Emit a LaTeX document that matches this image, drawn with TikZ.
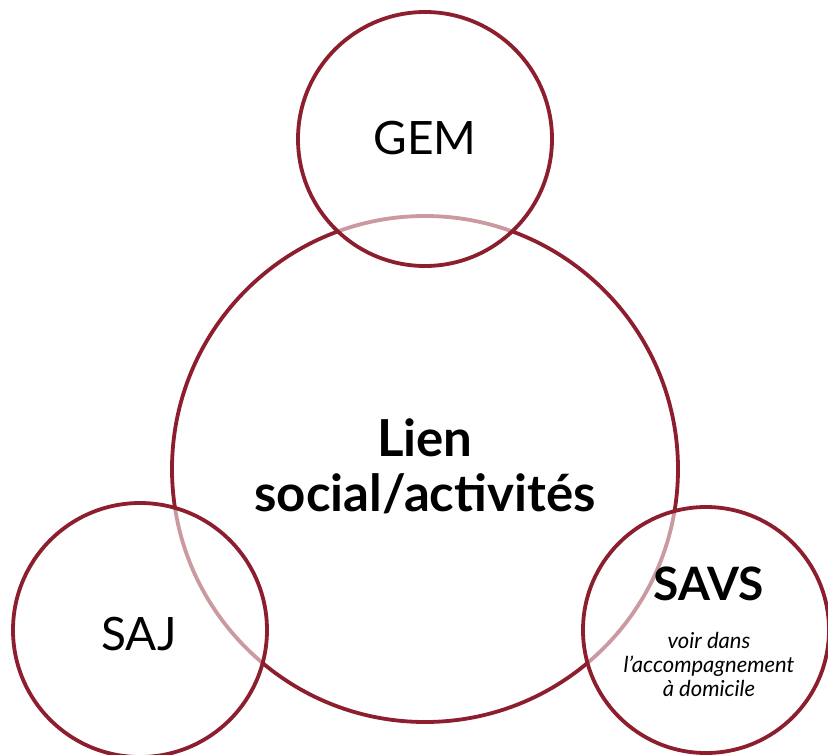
\documentclass[tikz,border=0pt]{standalone}
\usepackage{fontspec}
\setmainfont{Lato}
\definecolor{wine}{RGB}{140,30,45}
\begin{document}
\begin{tikzpicture}[x=1pt,y=-1pt,
  ring/.style={circle,draw=wine,line width=3.8pt,inner sep=0pt},
  smallring/.style={ring,fill=white,fill opacity=0.55,draw opacity=1}]
\useasboundingbox (0,0) rectangle (828,755);
\node[ring,minimum size=506pt] (big) at (425,469) {};
\node[smallring,minimum size=254pt] (gem) at (425,139) {};
\node[smallring,minimum size=254pt] (saj) at (140,630) {};
\node[smallring,minimum size=246pt] (savs) at (706,630) {};
\node[font=\fontsize{46}{50}\selectfont] (gemt) at (425,138) {GEM};
\node[font=\fontsize{46}{50}\selectfont] (sajt) at (139,634) {SAJ};
\node[font=\fontsize{51}{55}\selectfont\bfseries,align=center] (bigt) at (425,466) {Lien\\social/activités};
\node[font=\fontsize{46}{50}\selectfont\bfseries] (savst) at (709,584) {SAVS};
\node[font=\fontsize{22}{24}\selectfont\itshape,align=center] (savsn) at (709,664) {voir dans\\l'accompagnement\\à domicile};
\end{tikzpicture}
\end{document}
